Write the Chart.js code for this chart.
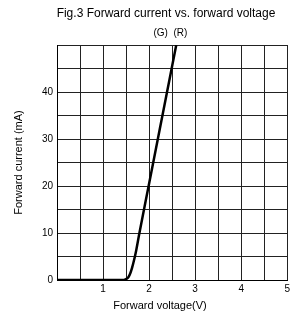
<!DOCTYPE html>
<html lang="en">
<head>
    <meta charset="UTF-8">
    <title>Forward current vs. forward voltage</title>
    <style>
        * {
            margin: 0;
            padding: 0;
        }

        body {
            background: #fff;
            font-family: 'Liberation Sans', Arial, sans-serif;
        }

        canvas {
            display: block;
        }
    </style>
    <script src="https://cdn.jsdelivr.net/npm/chart.js"></script>
</head>
<body>
    <canvas id="ivChart" width="293" height="318"></canvas>
    <script>
        // Data
        const voltage = [0, 1.0, 1.45, 1.5, 1.55, 1.59, 1.63, 1.67, 1.72, 1.79, 1.99, 2.19, 2.39, 2.49, 2.59];
        const current = [0, 0, 0, 0.2, 0.6, 1.4, 2.6, 4.1, 6.3, 10, 20, 30, 40, 45, 50];

        // Axis ranges and labels
        const xTickLabels = [1, 2, 3, 4, 5];
        const yTickLabels = [0, 10, 20, 30, 40];
        const curveNames = ['(G)', '(R)'];
        const curveNameVoltage = [2.25, 2.68];

        const chartTitle = 'Fig.3 Forward current vs. forward voltage';
        const xTitle = 'Forward voltage(V)';
        const yTitle = 'Forward current (mA)';

        const FONT = "'Liberation Sans', Arial, sans-serif";

        // Title, curve names and x axis title drawn as plain text
        const textPlugin = {
            id: 'texts',
            afterDraw(chart) {
                const ctx = chart.ctx;
                const x = chart.scales.x;
                ctx.save();
                ctx.fillStyle = '#000';
                ctx.textAlign = 'center';
                ctx.textBaseline = 'middle';
                ctx.font = '12px ' + FONT;
                ctx.fillText(chartTitle, 166, 14);
                ctx.font = '11px ' + FONT;
                ctx.fillText(xTitle, 160, 306);
                ctx.font = '10px ' + FONT;
                curveNames.forEach((name, i) => {
                    ctx.fillText(name, x.getPixelForValue(curveNameVoltage[i]), 33);
                });
                ctx.restore();
            }
        };

        const points = voltage.map((v, i) => ({ x: v, y: current[i] }));

        new Chart(document.getElementById('ivChart'), {
            type: 'line',
            data: {
                datasets: [{
                    data: points,
                    borderColor: '#000',
                    borderWidth: 2.5,
                    pointRadius: 0,
                    fill: false,
                    cubicInterpolationMode: 'monotone'
                }]
            },
            options: {
                responsive: false,
                animation: false,
                layout: {
                    padding: { top: 45, right: 2, left: 0, bottom: 0 }
                },
                plugins: {
                    legend: { display: false },
                    tooltip: { enabled: false }
                },
                scales: {
                    x: {
                        type: 'linear',
                        min: 0,
                        max: 5,
                        afterFit(scale) { scale.height = 38; },
                        border: { color: '#000', width: 1 },
                        grid: { color: '#222', lineWidth: 1, drawTicks: false },
                        ticks: {
                            stepSize: 0.5,
                            padding: 3,
                            maxRotation: 0,
                            autoSkip: false,
                            color: '#000',
                            font: { family: FONT, size: 10 },
                            callback: v => xTickLabels.includes(v) ? String(v) : ''
                        }
                    },
                    y: {
                        type: 'linear',
                        min: 0,
                        max: 50,
                        afterFit(scale) { scale.width = 57; },
                        border: { color: '#000', width: 1 },
                        grid: { color: '#222', lineWidth: 1, drawTicks: false },
                        ticks: {
                            stepSize: 5,
                            padding: 4,
                            autoSkip: false,
                            color: '#000',
                            font: { family: FONT, size: 10 },
                            callback: v => yTickLabels.includes(v) ? String(v) : ''
                        },
                        title: {
                            display: true,
                            text: yTitle,
                            color: '#000',
                            font: { family: FONT, size: 11 },
                            padding: { top: 12, bottom: 0 }
                        }
                    }
                }
            },
            plugins: [textPlugin]
        });
    </script>
</body>
</html>
